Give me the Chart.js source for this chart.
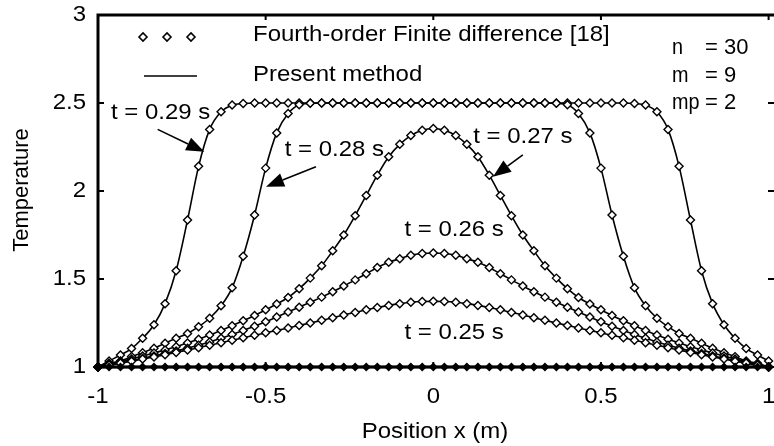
<!DOCTYPE html>
<html>
<head>
<meta charset="utf-8">
<script src="https://cdn.jsdelivr.net/npm/chart.js@4.4.1/dist/chart.umd.min.js"></script>
<style>
  html, body { margin: 0; padding: 0; background: #fff; }
  #wrap { width: 774px; height: 446px; }
</style>
</head>
<body>
<div id="wrap"><canvas id="tempChart" width="774" height="446"></canvas></div>
<script>
// grid positions x (m), n = 30
const xPos = [
  -1, -0.967, -0.933, -0.9, -0.867, -0.833, -0.8, -0.767, -0.733, -0.7,
  -0.667, -0.633, -0.6, -0.567, -0.533, -0.5, -0.467, -0.433, -0.4, -0.367,
  -0.333, -0.3, -0.267, -0.233, -0.2, -0.167, -0.133, -0.1, -0.067, -0.033,
  0,
  0.033, 0.067, 0.1, 0.133, 0.167, 0.2, 0.233, 0.267, 0.3, 0.333,
  0.367, 0.4, 0.433, 0.467, 0.5, 0.533, 0.567, 0.6, 0.633, 0.667,
  0.7, 0.733, 0.767, 0.8, 0.833, 0.867, 0.9, 0.933, 0.967, 1
];

// temperature
const tempBase = [
  1, 1, 1, 1, 1, 1, 1, 1, 1, 1, 1, 1, 1, 1, 1, 1, 1, 1, 1, 1,
  1, 1, 1, 1, 1, 1, 1, 1, 1, 1, 1, 1, 1, 1, 1, 1, 1, 1, 1, 1,
  1, 1, 1, 1, 1, 1, 1, 1, 1, 1, 1, 1, 1, 1, 1, 1, 1, 1, 1, 1, 1
];
const temp025 = [
  1.0, 1.011, 1.022, 1.033, 1.045, 1.057, 1.07, 1.083, 1.096, 1.11,
  1.124, 1.138, 1.152, 1.166, 1.18, 1.194, 1.208, 1.222, 1.236, 1.25,
  1.265, 1.28, 1.296, 1.31, 1.325, 1.338, 1.35, 1.36, 1.368, 1.372,
  1.373,
  1.372, 1.368, 1.36, 1.35, 1.338, 1.325, 1.31, 1.296, 1.28, 1.265,
  1.25, 1.236, 1.222, 1.208, 1.194, 1.18, 1.166, 1.152, 1.138, 1.124,
  1.11, 1.096, 1.083, 1.07, 1.057, 1.045, 1.033, 1.022, 1.011, 1.0
];
const temp026 = [
  1.0, 1.011, 1.023, 1.036, 1.05, 1.063, 1.077, 1.091, 1.106, 1.123,
  1.142, 1.163, 1.185, 1.208, 1.232, 1.257, 1.284, 1.312, 1.34, 1.368,
  1.397, 1.428, 1.46, 1.495, 1.53, 1.565, 1.595, 1.615, 1.635, 1.645,
  1.648,
  1.645, 1.635, 1.615, 1.595, 1.565, 1.53, 1.495, 1.46, 1.428, 1.397,
  1.368, 1.34, 1.312, 1.284, 1.257, 1.232, 1.208, 1.185, 1.163, 1.142,
  1.123, 1.106, 1.091, 1.077, 1.063, 1.05, 1.036, 1.023, 1.011, 1.0
];
const temp027 = [
  1.0, 1.015, 1.03, 1.045, 1.062, 1.08, 1.097, 1.115, 1.137, 1.158,
  1.182, 1.207, 1.235, 1.263, 1.293, 1.325, 1.358, 1.395, 1.445, 1.505,
  1.575, 1.66, 1.75, 1.86, 1.975, 2.09, 2.195, 2.265, 2.315, 2.345,
  2.355,
  2.345, 2.315, 2.265, 2.195, 2.09, 1.975, 1.86, 1.75, 1.66, 1.575,
  1.505, 1.445, 1.395, 1.358, 1.325, 1.293, 1.263, 1.235, 1.207, 1.182,
  1.158, 1.137, 1.115, 1.097, 1.08, 1.062, 1.045, 1.03, 1.015, 1.0
];
const temp028 = [
  1.0, 1.021, 1.034, 1.059, 1.081, 1.106, 1.135, 1.163, 1.19, 1.229,
  1.277, 1.348, 1.45, 1.629, 1.864, 2.13, 2.33, 2.44, 2.49, 2.498,
  2.5, 2.5, 2.5, 2.5, 2.5, 2.5, 2.5, 2.5, 2.5, 2.5,
  2.5,
  2.5, 2.5, 2.5, 2.5, 2.5, 2.5, 2.5, 2.5, 2.5, 2.5,
  2.498, 2.49, 2.44, 2.33, 2.13, 1.864, 1.629, 1.45, 1.348, 1.277,
  1.229, 1.19, 1.163, 1.135, 1.106, 1.081, 1.059, 1.034, 1.021, 1.0
];
const temp029 = [
  1.0, 1.034, 1.068, 1.105, 1.163, 1.24, 1.36, 1.547, 1.835, 2.14,
  2.35, 2.45, 2.488, 2.497, 2.5, 2.5, 2.5, 2.5, 2.5, 2.5,
  2.5, 2.5, 2.5, 2.5, 2.5, 2.5, 2.5, 2.5, 2.5, 2.5,
  2.5,
  2.5, 2.5, 2.5, 2.5, 2.5, 2.5, 2.5, 2.5, 2.5, 2.5,
  2.5, 2.5, 2.5, 2.5, 2.5, 2.5, 2.5, 2.497, 2.488, 2.45,
  2.35, 2.14, 1.835, 1.547, 1.36, 1.24, 1.163, 1.105, 1.068, 1.034, 1.0
];

const seriesNames = ['t = 0 s', 't = 0.25 s', 't = 0.26 s', 't = 0.27 s', 't = 0.28 s', 't = 0.29 s'];
const seriesTemps = [tempBase, temp025, temp026, temp027, temp028, temp029];

const xTicks = [-1, -0.5, 0, 0.5, 1];
const xTickLabels = ['-1', '-0.5', '0', '0.5', '1'];
const yTicks = [1, 1.5, 2, 2.5, 3];
const yTickLabels = ['1', '1.5', '2', '2.5', '3'];

const legendNames = ['Fourth-order Finite difference [18]', 'Present method'];
const paramNames = ['n', 'm', 'mp'];
const paramValues = ['= 30', '= 9', '= 2'];

// curve labels with arrows, in data units
const curveNotes = [
  { text: 't = 0.29 s', x: -0.813, y: 2.443, arrow: [-0.822, 2.35, -0.683, 2.223] },
  { text: 't = 0.28 s', x: -0.295, y: 2.233, arrow: [-0.35, 2.138, -0.499, 2.024] },
  { text: 't = 0.27 s', x: 0.267, y: 2.309, arrow: [0.267, 2.205, 0.178, 2.081] },
  { text: 't = 0.26 s', x: 0.062, y: 1.778 },
  { text: 't = 0.25 s', x: 0.062, y: 1.193 }
];

const FONT = '22px "Liberation Sans", Arial, sans-serif';
const stretch = 1.09;

function putText(ctx, str, x, y, align, sx) {
  ctx.save();
  ctx.translate(x, y);
  ctx.scale(sx || stretch, 1);
  ctx.font = FONT;
  ctx.fillStyle = '#000';
  ctx.textAlign = align || 'left';
  ctx.textBaseline = 'middle';
  ctx.fillText(str, 0, 0);
  ctx.restore();
}

function diamond(ctx, x, y, r) {
  ctx.beginPath();
  ctx.moveTo(x - r, y);
  ctx.lineTo(x, y - r);
  ctx.lineTo(x + r, y);
  ctx.lineTo(x, y + r);
  ctx.closePath();
  ctx.fillStyle = '#fff';
  ctx.fill();
  ctx.stroke();
}

function arrow(ctx, x1, y1, x2, y2) {
  const ang = Math.atan2(y2 - y1, x2 - x1);
  const len = 18, half = 7;
  const bx = x2 - len * Math.cos(ang), by = y2 - len * Math.sin(ang);
  ctx.strokeStyle = '#000';
  ctx.fillStyle = '#000';
  ctx.beginPath();
  ctx.moveTo(x1, y1);
  ctx.lineTo(bx, by);
  ctx.lineWidth = 1.6;
  ctx.stroke();
  ctx.beginPath();
  ctx.moveTo(x2, y2);
  ctx.lineTo(bx - half * Math.sin(ang), by + half * Math.cos(ang));
  ctx.lineTo(bx + half * Math.sin(ang), by - half * Math.cos(ang));
  ctx.closePath();
  ctx.fill();
}

const datasets = [];
seriesTemps.forEach((temps, k) => {
  const pts = xPos.map((x, i) => ({ x: x, y: temps[i] }));
  const isBase = k === 0;
  // present method: solid line
  datasets.push({
    label: seriesNames[k] + ' present',
    data: pts,
    showLine: true,
    borderColor: '#000',
    borderWidth: isBase ? 3 : 1.6,
    pointRadius: 0,
    cubicInterpolationMode: 'monotone',
    clip: false,
    order: 2
  });
  // finite difference: open diamonds
  datasets.push({
    label: seriesNames[k] + ' FD',
    data: pts,
    showLine: false,
    pointStyle: 'rectRot',
    pointRadius: isBase ? 3.5 : 4,
    pointBorderWidth: 1.4,
    pointBorderColor: '#000',
    pointBackgroundColor: isBase ? '#000' : '#fff',
    clip: false,
    order: 1
  });
});

const decorPlugin = {
  id: 'decor',
  afterDraw(chart) {
    const ctx = chart.ctx;
    const xs = chart.scales.x, ys = chart.scales.y;
    const a = chart.chartArea;
    ctx.save();
    ctx.strokeStyle = '#000';
    ctx.fillStyle = '#000';

    // frame
    ctx.lineWidth = 3;
    ctx.beginPath();
    ctx.moveTo(a.left, a.bottom);
    ctx.lineTo(a.left, a.top);
    ctx.lineTo(774, a.top);
    ctx.stroke();
    ctx.lineWidth = 2.5;
    ctx.beginPath();
    ctx.moveTo(a.left, a.bottom);
    ctx.lineTo(a.right, a.bottom);
    ctx.stroke();

    // inward ticks
    ctx.lineWidth = 2;
    yTicks.forEach(v => {
      const py = ys.getPixelForValue(v);
      ctx.beginPath();
      ctx.moveTo(a.left, py); ctx.lineTo(a.left + 6, py);
      ctx.moveTo(774, py); ctx.lineTo(768, py);
      ctx.stroke();
    });
    xTicks.forEach(v => {
      const px = xs.getPixelForValue(v);
      ctx.beginPath();
      ctx.moveTo(px, a.top); ctx.lineTo(px, a.top + 5);
      ctx.moveTo(px, a.bottom); ctx.lineTo(px, a.bottom - 5);
      ctx.stroke();
    });

    // tick labels
    yTicks.forEach((v, i) => putText(ctx, yTickLabels[i], 86, ys.getPixelForValue(v), 'right'));
    xTicks.forEach((v, i) => putText(ctx, xTickLabels[i], xs.getPixelForValue(v), 397, 'center'));

    // axis titles
    putText(ctx, 'Position x (m)', 435, 432, 'center');
    ctx.save();
    ctx.translate(22, 190);
    ctx.rotate(-Math.PI / 2);
    ctx.font = FONT;
    ctx.fillStyle = '#000';
    ctx.textAlign = 'center';
    ctx.textBaseline = 'middle';
    ctx.fillText('Temperature', 0, 0);
    ctx.restore();

    // legend
    ctx.strokeStyle = '#000';
    ctx.lineWidth = 1.6;
    [143, 167, 191].forEach(px => diamond(ctx, px, 37, 4));
    putText(ctx, legendNames[0], 253, 35);
    ctx.beginPath();
    ctx.moveTo(144, 76); ctx.lineTo(197, 76);
    ctx.lineWidth = 1.6;
    ctx.stroke();
    putText(ctx, legendNames[1], 253, 75);

    // parameters
    paramNames.forEach((nm, i) => {
      const py = 48 + i * 27.5;
      putText(ctx, nm, 672, py, 'left', 0.9);
      putText(ctx, paramValues[i], 705, py, 'left', 1.0);
    });

    // curve labels and arrows
    curveNotes.forEach(n => {
      putText(ctx, n.text, xs.getPixelForValue(n.x), ys.getPixelForValue(n.y), 'center');
      if (n.arrow) {
        arrow(ctx,
          xs.getPixelForValue(n.arrow[0]), ys.getPixelForValue(n.arrow[1]),
          xs.getPixelForValue(n.arrow[2]), ys.getPixelForValue(n.arrow[3]));
      }
    });
    ctx.restore();
  }
};

const chart = new Chart(document.getElementById('tempChart'), {
  type: 'line',
  data: { datasets: datasets },
  options: {
    responsive: false,
    animation: false,
    devicePixelRatio: 1,
    layout: { padding: { top: 15, right: 2, left: 0, bottom: 0 } },
    plugins: { legend: { display: false }, tooltip: { enabled: false } },
    scales: {
      x: {
        type: 'linear', min: -1, max: 1,
        grid: { display: false }, border: { display: false },
        ticks: { display: false },
        afterFit(scale) { scale.height = 79; }
      },
      y: {
        type: 'linear', min: 1, max: 3,
        grid: { display: false }, border: { display: false },
        ticks: { display: false },
        afterFit(scale) { scale.width = 98; }
      }
    }
  },
  plugins: [decorPlugin]
});
</script>
</body>
</html>
